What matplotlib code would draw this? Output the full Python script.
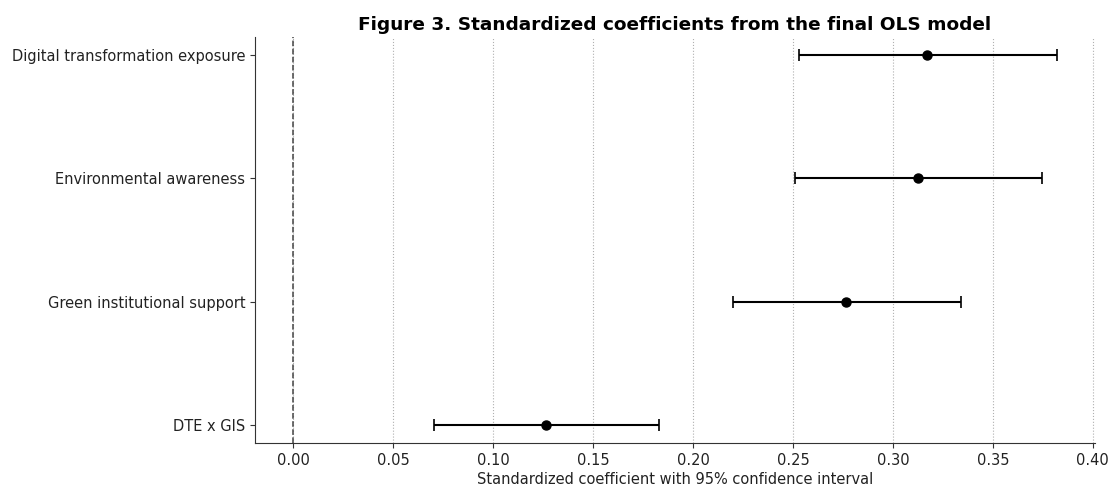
import matplotlib
matplotlib.use("Agg")
import matplotlib.pyplot as plt
import numpy as np

labels = ["Digital transformation exposure", "Environmental awareness",
          "Green institutional support", "DTE x GIS"]
coef = [0.317, 0.3125, 0.2765, 0.1265]
ci_low = [0.253, 0.251, 0.220, 0.0705]
ci_high = [0.382, 0.3745, 0.334, 0.183]

fig = plt.figure(figsize=(11.13, 4.88), dpi=100)
ax = fig.add_axes([255/1113, 45/488, (1095-255)/1113, (443-37)/488])

y = np.arange(len(labels))
coef_a = np.array(coef)
err = [coef_a - np.array(ci_low), np.array(ci_high) - coef_a]
ax.errorbar(coef, y, xerr=err, fmt="o", color="black", ecolor="black",
            elinewidth=1.5, capsize=4, capthick=1.2, markersize=6.5)
ax.axvline(0, color="#444444", linestyle="--", linewidth=1.1)
ax.set_yticks(y)
ax.set_yticklabels(labels, fontsize=10.5, color="#222222")
ax.invert_yaxis()
ax.tick_params(axis="x", labelsize=10.5, labelcolor="#222222")
ax.tick_params(colors="#333333", which="both")
ax.tick_params(labelcolor="#222222")
ax.set_xticks(np.arange(0, 0.401, 0.05))
ax.xaxis.grid(True, linestyle=":", color="#b0b0b0", linewidth=0.8)
ax.set_axisbelow(True)
for s in ["top", "right"]:
    ax.spines[s].set_visible(False)
for s in ["left", "bottom"]:
    ax.spines[s].set_color("#333333")
ax.set_xlabel("Standardized coefficient with 95% confidence interval",
              fontsize=10.5, color="#222222", labelpad=3)
ax.set_title("Figure 3. Standardized coefficients from the final OLS model",
             fontsize=13.3, fontweight="bold", pad=5)
fig.savefig("out.png", dpi=100)
